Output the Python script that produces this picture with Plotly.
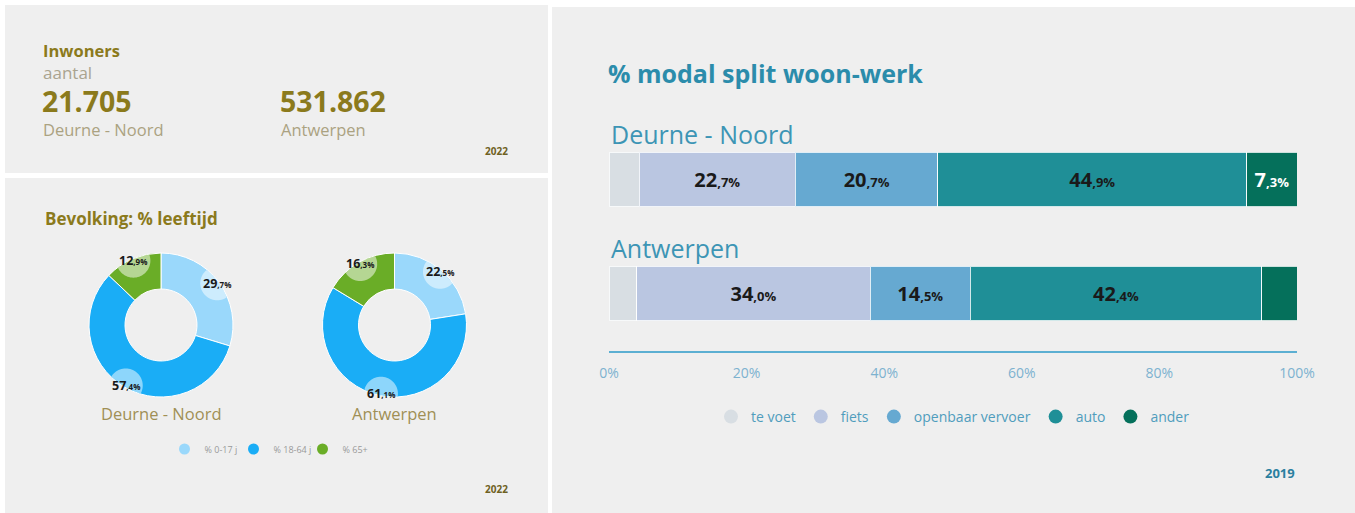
import math
import plotly.graph_objects as go

W, H = 1355, 513
FONT = "Open Sans"

# ---------------- data ----------------
inwoners_regions = ["Deurne - Noord", "Antwerpen"]
inwoners_values = ["21.705", "531.862"]
inwoners_year = "2022"

age_groups = ["% 0-17 j", "% 18-64 j", "% 65+"]
age_colors = ["#9ad8fb", "#1aadf6", "#6aad27"]
age_regions = ["Deurne - Noord", "Antwerpen"]
age_deurne = [29.7, 57.4, 12.9]
age_antwerpen = [22.5, 61.1, 16.3]
age_year = "2022"

modes = ["te voet", "fiets", "openbaar vervoer", "auto", "ander"]
mode_colors = ["#d8dee3", "#bac6e1", "#66a9d1", "#1f8f97", "#05705b"]
mode_text_colors = ["#1a1a1a", "#1a1a1a", "#1a1a1a", "#1a1a1a", "#ffffff"]
modal_regions = ["Deurne - Noord", "Antwerpen"]
modal_deurne = [4.4, 22.7, 20.7, 44.9, 7.3]
modal_antwerpen = [4.0, 34.0, 14.5, 42.4, 5.1]
label_deurne = [False, True, True, True, True]
label_antwerpen = [False, True, True, True, False]
x_tick_vals = [0, 20, 40, 60, 80, 100]
x_tick_text = ["0%", "20%", "40%", "60%", "80%", "100%"]
modal_year = "2019"


def px(x):
    return x / W


def py(y):
    return 1 - y / H


def split_label(v, small):
    s = f"{v:.1f}".replace(".", ",")
    ip, dp = s.split(",")
    return f"<b>{ip}</b><span style='font-size:{small}px'><b>,{dp}%</b></span>"


fig = go.Figure()

# ---------------- panel backgrounds ----------------
PANEL = "#efefef"
shapes = [
    dict(type="rect", xref="paper", yref="paper", x0=px(5), x1=px(548), y0=py(173), y1=py(5),
         fillcolor=PANEL, line=dict(width=0), layer="below"),
    dict(type="rect", xref="paper", yref="paper", x0=px(5), x1=px(548), y0=py(513), y1=py(178),
         fillcolor=PANEL, line=dict(width=0), layer="below"),
    dict(type="rect", xref="paper", yref="paper", x0=px(552), x1=px(1355), y0=py(513), y1=py(7),
         fillcolor=PANEL, line=dict(width=0), layer="below"),
]
annotations = []

# ---------------- Inwoners panel ----------------
OLIVE = "#8b7a1c"
annotations += [
    dict(text="<b>Inwoners</b>", x=px(41), y=py(51), xref="paper", yref="paper", xanchor="left",
         yanchor="middle", showarrow=False, font=dict(family=FONT, size=16.5, color=OLIVE)),
    dict(text="aantal", x=px(41), y=py(72), xref="paper", yref="paper", xanchor="left",
         yanchor="middle", showarrow=False, font=dict(family=FONT, size=17, color="#aaa48f")),
    dict(text=f"<b>{inwoners_year}</b>", x=px(497), y=py(151), xref="paper", yref="paper",
         xanchor="center", yanchor="middle", showarrow=False,
         font=dict(family=FONT, size=10, color="#6e6122")),
]
for i, (reg, val) in enumerate(zip(inwoners_regions, inwoners_values)):
    x0 = [40, 278][i]
    annotations.append(dict(text=f"<b>{val}</b>", x=px(x0), y=py(101), xref="paper", yref="paper",
                            xanchor="left", yanchor="middle", showarrow=False,
                            font=dict(family=FONT, size=28.5, color=OLIVE)))
    annotations.append(dict(text=reg, x=px(x0 + 1), y=py(129), xref="paper", yref="paper",
                            xanchor="left", yanchor="middle", showarrow=False,
                            font=dict(family=FONT, size=16.5, color="#aba281")))

# ---------------- Donuts ----------------
annotations.append(dict(text="<b>Bevolking: % leeftijd</b>", x=px(43), y=py(219), xref="paper",
                        yref="paper", xanchor="left", yanchor="middle", showarrow=False,
                        font=dict(family=FONT, size=17, color=OLIVE)))
annotations.append(dict(text=f"<b>{age_year}</b>", x=px(497), y=py(489), xref="paper", yref="paper",
                        xanchor="center", yanchor="middle", showarrow=False,
                        font=dict(family=FONT, size=10, color="#6e6122")))

R_OUT = 72
R_IN = 36
centers = [(161, 325), (394.5, 325)]
for (cx, cy), vals, reg in zip(centers, [age_deurne, age_antwerpen], age_regions):
    fig.add_trace(go.Pie(
        labels=age_groups, values=vals, hole=0.5, sort=False, direction="clockwise", rotation=0,
        marker=dict(colors=age_colors, line=dict(color="#ffffff", width=1)),
        textinfo="none", hoverinfo="label+value", showlegend=False,
        domain=dict(x=[px(cx - R_OUT), px(cx + R_OUT)], y=[py(cy + R_OUT), py(cy - R_OUT)]),
    ))
    total = sum(vals)
    cum = 0.0
    for v in vals:
        mid = (cum + v / 2) / total
        cum += v
        th = 2 * math.pi * mid
        bx = cx + 70 * math.sin(th)
        by = cy - 70 * math.cos(th)
        rb = 17
        # bubble clipped to the ring
        pts = []
        for k in range(72):
            t = 2 * math.pi * k / 72
            qx = bx + rb * math.cos(t)
            qy = by + rb * math.sin(t)
            dx, dy = qx - cx, qy - cy
            d = math.hypot(dx, dy)
            dc = min(max(d, R_IN), R_OUT - 0.5)
            qx, qy = cx + dx / d * dc, cy + dy / d * dc
            pts.append((px(qx), py(qy)))
        path = "M " + " L ".join(f"{a:.5f},{b:.5f}" for a, b in pts) + " Z"
        shapes.append(dict(type="path", xref="paper", yref="paper", path=path,
                           fillcolor="rgba(255,255,255,0.5)", line=dict(width=0), layer="above"))
        annotations.append(dict(text=split_label(v, 8), x=px(bx), y=py(by), xref="paper", yref="paper",
                                xanchor="center", yanchor="middle", showarrow=False,
                                font=dict(family=FONT, size=12.5, color="#1a1a1a")))
    annotations.append(dict(text=reg, x=px(cx), y=py(413), xref="paper", yref="paper",
                            xanchor="center", yanchor="middle", showarrow=False,
                            font=dict(family=FONT, size=16.5, color="#a08f55")))

for g, c in zip(age_groups, age_colors):
    fig.add_trace(go.Scatter(x=[None], y=[None], mode="markers", name=g, legend="legend2",
                             marker=dict(symbol="circle", size=11, color=c), hoverinfo="skip"))

# ---------------- Modal split bars ----------------
for i, m in enumerate(modes):
    vals = [modal_deurne[i], modal_antwerpen[i]]
    flags = [label_deurne[i], label_antwerpen[i]]
    txt = [split_label(v, 13) if f else "" for v, f in zip(vals, flags)]
    fig.add_trace(go.Bar(
        orientation="h", y=modal_regions, x=vals, name=m, showlegend=False,
        marker=dict(color=mode_colors[i], line=dict(color="rgba(255,255,255,0.8)", width=1)),
        text=txt, textposition="inside", insidetextanchor="middle", textangle=0,
        textfont=dict(family=FONT, size=20, color=mode_text_colors[i]),
        hoverinfo="x+name",
    ))
    fig.add_trace(go.Scatter(x=[None], y=[None], mode="markers", name=m, legend="legend",
                             marker=dict(symbol="circle", size=14, color=mode_colors[i]),
                             hoverinfo="skip"))

for j, reg in enumerate(modal_regions):
    annotations.append(dict(text=reg, x=0, y=reg, xref="x", yref="y", xanchor="left",
                            yanchor="middle", yshift=46, showarrow=False,
                            font=dict(family=FONT, size=25, color="#3d95b5")))

annotations.append(dict(text="<b>% modal split woon-werk</b>", x=px(606), y=py(73), xref="paper",
                        yref="paper", xanchor="left", yanchor="middle", showarrow=False,
                        font=dict(family=FONT, size=25, color="#2b8cab")))
annotations.append(dict(text=f"<b>{modal_year}</b>", x=px(1297), y=py(473), xref="paper", yref="paper",
                        xanchor="right", yanchor="middle", showarrow=False,
                        font=dict(family=FONT, size=13, color="#2a7f9f")))

fig.update_layout(
    width=W, height=H, autosize=False,
    margin=dict(l=0, r=0, t=0, b=0, pad=0, autoexpand=False),
    paper_bgcolor="#ffffff", plot_bgcolor=PANEL,
    barmode="stack", bargap=0.518,
    font=dict(family=FONT),
    shapes=shapes, annotations=annotations,
    xaxis=dict(domain=[px(609), px(1297)], range=[0, 100], showgrid=False, zeroline=False,
               showline=True, linecolor="#5cafd2", linewidth=2, ticks="", automargin=False,
               tickvals=x_tick_vals, ticktext=x_tick_text, ticklabelstandoff=9,
               tickfont=dict(family=FONT, size=14, color="#7db2cf"), fixedrange=True),
    yaxis=dict(domain=[py(350.5), py(122.5)], type="category", categoryorder="array",
               categoryarray=modal_regions, range=[1.5, -0.5], showgrid=False, zeroline=False,
               showticklabels=False, showline=False, fixedrange=True, automargin=False),
    legend=dict(orientation="h", x=px(953), xanchor="center", y=py(417), yanchor="middle",
                traceorder="normal",
                bgcolor="rgba(0,0,0,0)", font=dict(family=FONT, size=14, color="#4f9dbd"),
                itemclick=False, itemdoubleclick=False),
    legend2=dict(orientation="h", x=px(268), xanchor="center", y=py(449), yanchor="middle",
                 traceorder="normal", entrywidth=24, entrywidthmode="pixels",
                 bgcolor="rgba(0,0,0,0)", font=dict(family=FONT, size=9, color="#9a9a9a"),
                 itemclick=False, itemdoubleclick=False),
)

fig.write_html(
    "out.html",
    config={"displayModeBar": False},
    post_script="document.body.style.margin='0';document.body.style.overflow='hidden';",
)
